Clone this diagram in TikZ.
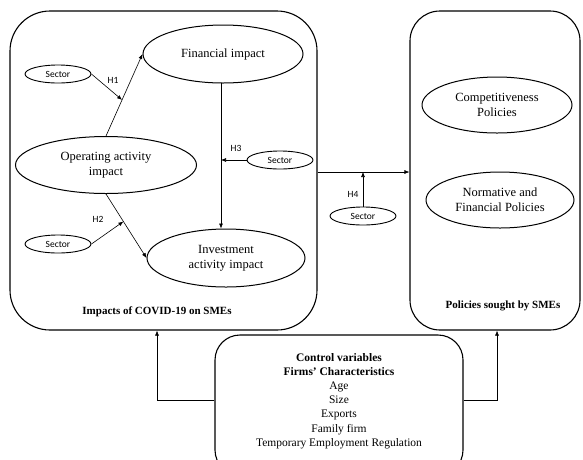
\documentclass[tikz,border=0pt]{standalone}
\usepackage{fontspec}
\setmainfont{Liberation Serif}
\newfontfamily\sectorfont{Carlito}
\usetikzlibrary{shapes.geometric,arrows.meta}
\begin{document}
\begin{tikzpicture}[x=1pt,y=-1pt,
  panel/.style={draw,line width=1.1pt,inner sep=0pt},
  bigell/.style={draw,ellipse,line width=1pt,inner sep=0pt,align=center,font=\fontsize{12.5}{15}\selectfont},
  secell/.style={draw,ellipse,line width=0.9pt,inner sep=0pt,minimum width=66,minimum height=18,font=\sectorfont\fontsize{9.5}{10}\selectfont},
  hlab/.style={font=\sectorfont\fontsize{9.5}{10}\selectfont,inner sep=0pt},
  arr/.style={line width=0.6pt,-{Latex[length=5pt,width=4pt]}},
  ttl/.style={font=\bfseries\fontsize{11}{12}\selectfont,inner sep=0pt}
]
\useasboundingbox (0,0) rectangle (583,459);
\clip (0,0) rectangle (583,459);
% panels
\node[panel,rounded corners=40pt,minimum width=307,minimum height=319] (leftbox) at (163.5,170.5) {};
\node[panel,rounded corners=30pt,minimum width=170,minimum height=319] (rightbox) at (495,170.5) {};
\node[panel,rounded corners=25pt,minimum width=248,minimum height=140] (ctrl) at (339,405) {};
% big ellipses
\node[bigell,minimum width=160,minimum height=58] (fin) at (223,54) {Financial impact};
\node[bigell,minimum width=181,minimum height=57] (op) at (106,165) {Operating activity\\impact};
\node[bigell,minimum width=158,minimum height=58] (inv) at (226,258) {Investment\\activity impact};
\node[bigell,minimum width=150,minimum height=56] (comp) at (497,105) {Competitiveness\\Policies};
\node[bigell,minimum width=148,minimum height=56] (norm) at (500,200) {Normative and\\Financial Policies};
% sector ellipses
\node[secell] (s1) at (58,74) {Sector};
\node[secell] (s2) at (58,244) {Sector};
\node[secell] (s3) at (280,160) {Sector};
\node[secell] (s4) at (363,216) {Sector};
% labels
\node[hlab] (h1) at (113,80) {H1};
\node[hlab] (h2) at (98,219) {H2};
\node[hlab] (h3) at (236,148) {H3};
\node[hlab] (h4) at (353,194) {H4};
\node[ttl] (t1) at (157,312) {Impacts of COVID-19 on SMEs};
\node[ttl] (t2) at (503,306) {Policies sought by SMEs};
\node[align=center,inner sep=0pt,font=\fontsize{11.5}{14.2}\selectfont] (ctxt) at (339,401)
  {\textbf{Control variables}\\\textbf{Firms' Characteristics}\\Age\\Size\\Exports\\Family firm\\Temporary Employment Regulation};
% connectors
\draw[arr] (op.north) -- coordinate[pos=0.44] (m1) (fin.west);
\draw[arr] (s1.east) -- (m1);
\draw[arr] (op.south) -- coordinate[pos=0.43] (m2) (inv.west);
\draw[arr] (s2.east) -- (m2);
\coordinate (v1) at (221,83);
\draw[arr] (v1) -- (v1 |- inv.north);
\draw[arr] (s3.west) -- (s3.west -| v1);
\coordinate (hl) at (0,172);
\draw[arr] (leftbox.east |- hl) -- (rightbox.west |- hl);
\draw[arr] (s4.north) -- (s4.north |- hl);
\draw[arr] ([yshift=5pt]ctrl.west) -| ([xshift=-6.5pt]leftbox.south);
\draw[arr] ([yshift=5pt]ctrl.east) -| ([xshift=2pt]rightbox.south);
\end{tikzpicture}
\end{document}
